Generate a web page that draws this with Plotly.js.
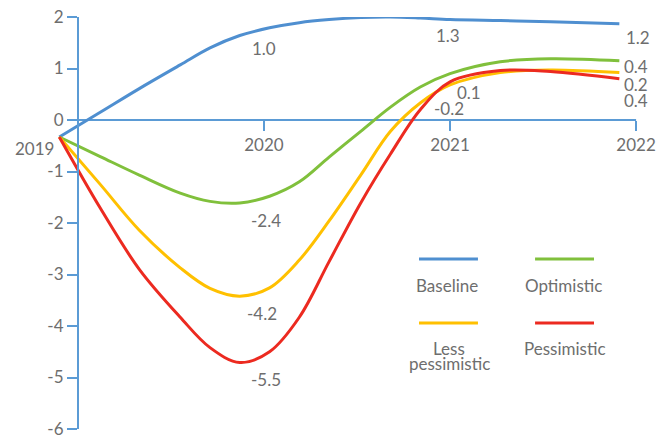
<!DOCTYPE html>
<html>
<head>
<meta charset="utf-8">
<script src="https://cdn.plot.ly/plotly-3.0.1.min.js"></script>
<style>html,body{margin:0;padding:0;background:#fff;}#chart{width:668px;height:441px;}</style>
</head>
<body>
<div id="chart"></div>
<script>
// ---- data ----
var years = [2018.9, 2019.12, 2019.33, 2019.55, 2019.71, 2019.87, 2020.03, 2020.19, 2020.35, 2020.52, 2020.68, 2020.84, 2021.0, 2021.27, 2021.54, 2021.91];
var baseline        = [-0.33, 0.15, 0.61, 1.07, 1.40, 1.64, 1.79, 1.89, 1.95, 1.99, 2.00, 1.98, 1.95, 1.93, 1.91, 1.87];
var optimistic      = [-0.33, -0.71, -1.07, -1.42, -1.58, -1.61, -1.48, -1.20, -0.72, -0.22, 0.25, 0.64, 0.90, 1.13, 1.19, 1.15];
var lessPessimistic = [-0.33, -1.25, -2.14, -2.87, -3.27, -3.42, -3.26, -2.72, -1.96, -1.07, -0.22, 0.33, 0.68, 0.92, 0.97, 0.92];
var pessimistic     = [-0.33, -1.71, -2.90, -3.83, -4.42, -4.71, -4.50, -3.83, -2.75, -1.61, -0.66, 0.20, 0.74, 0.96, 0.94, 0.80];
var seriesNames = ["Baseline", "Optimistic", "Less pessimistic", "Pessimistic"];
var xTickVals = [2020, 2021, 2022];
var xTickText = ["2020", "2021", "2022"];
var yTickVals = [-6, -5, -4, -3, -2, -1, 0, 1, 2];
var yTickText = ["-6", "-5", "-4", "-3", "-2", "-1", "0", "1", "2"];
var firstYearLabel = "2019";
var valueLabels = ["1.0", "1.3", "1.2", "0.4", "0.2", "0.4", "0.1", "-0.2", "-2.4", "-4.2", "-5.5"];

// ---- styling ----
var colors = ["#4f8fd0", "#80c03c", "#ffc000", "#ec2a20"];
var axisColor = "#5b9bd5";
var textColor = "#6e6e6e";
var FONT = "Lato, 'Open Sans', sans-serif";

var seriesData = [baseline, optimistic, lessPessimistic, pessimistic];
var traces = seriesData.map(function (ys, i) {
  return {
    x: years, y: ys, type: "scatter", mode: "lines", name: seriesNames[i],
    line: {color: colors[i], width: 3, shape: "spline", smoothing: 1},
    cliponaxis: false, hoverinfo: "x+y"
  };
});

// value label positions (text from valueLabels)
var labelPos = [
  [2020.00, 1.38], [2020.99, 1.65], [2022.01, 1.61],
  [2022.00, 1.03], [2022.00, 0.68], [2022.00, 0.37],
  [2021.10, 0.54], [2020.995, 0.23],
  [2020.01, -1.96], [2019.99, -3.75], [2020.01, -5.03]
];
var annotations = valueLabels.map(function (t, i) {
  return {x: labelPos[i][0], y: labelPos[i][1], xref: "x", yref: "y", text: t,
          xanchor: "center", yanchor: "middle",
          showarrow: false, font: {family: FONT, size: 17, color: textColor}};
});
annotations.push({x: -0.026, y: 0.680, xref: "paper", yref: "paper", text: firstYearLabel,
  xanchor: "center", yanchor: "middle",
  showarrow: false, font: {family: FONT, size: 17, color: textColor}});

// custom legend (line above text, 2x2)
var legX = [[0.601, 0.697], [0.790, 0.886], [0.601, 0.697], [0.790, 0.886]];
var legY = [0.4126, 0.4126, 0.2573, 0.2573];
var shapes = [
  {type: "line", xref: "x", yref: "y", x0: 2019, x1: 2022, y0: 0, y1: 0,
   line: {color: axisColor, width: 2}, layer: "below"}
];
seriesNames.forEach(function (n, i) {
  shapes.push({type: "line", xref: "paper", yref: "paper", x0: legX[i][0], x1: legX[i][1],
    y0: legY[i], y1: legY[i], line: {color: colors[i], width: 3}});
});
var legTextPos = [[0.6466, 0.3495], [0.837, 0.3495], [0.650, 0.1966], [0.8395, 0.1966]];
seriesNames.forEach(function (n, i) {
  var parts = (i === 2) ? n.split(" ") : [n];
  parts.forEach(function (p, k) {
    annotations.push({x: legTextPos[i][0], y: legTextPos[i][1] - k * 0.0388, xref: "paper", yref: "paper",
      xanchor: "center", yanchor: "middle",
      text: p, showarrow: false, font: {family: FONT, size: 17, color: textColor}});
  });
});

var layout = {
  width: 668, height: 441,
  margin: {l: 50, r: 4, t: 17, b: 12, pad: 0},
  paper_bgcolor: "#ffffff", plot_bgcolor: "#ffffff",
  showlegend: false,
  font: {family: FONT, size: 17, color: textColor},
  xaxis: {
    range: [2018.85, 2022.15], anchor: "free", position: 0.75,
    showgrid: false, zeroline: false, showline: false,
    tickmode: "array", tickvals: xTickVals, ticktext: xTickText,
    ticks: "outside", ticklen: 10, tickwidth: 2, tickcolor: axisColor,
    tickfont: {family: FONT, size: 17, color: textColor}
  },
  yaxis: {
    range: [-6, 2], anchor: "free", position: 0.15 / 3.3,
    showgrid: false, zeroline: false, showline: true, linecolor: axisColor, linewidth: 2,
    tickmode: "array", tickvals: yTickVals, ticktext: yTickText,
    ticks: "outside", ticklen: 10, tickwidth: 2, tickcolor: axisColor,
    tickfont: {family: FONT, size: 17, color: textColor}
  },
  shapes: shapes,
  annotations: annotations
};

Plotly.newPlot("chart", traces, layout, {displayModeBar: false, staticPlot: true});
</script>
</body>
</html>
